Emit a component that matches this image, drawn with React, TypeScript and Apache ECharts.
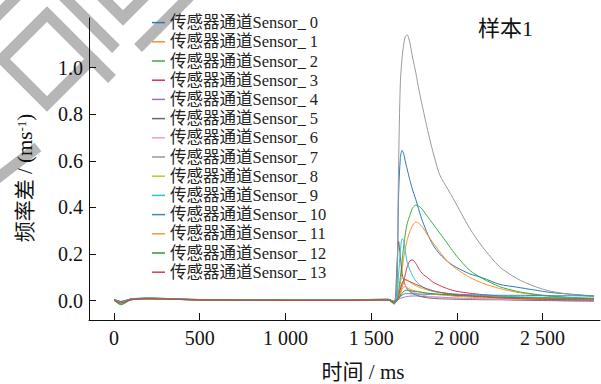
import React, { useEffect, useRef } from 'react';
import * as echarts from 'echarts';

// time (ms)
const TIME = [0, 40, 100, 200, 500, 900, 1300, 1600, 1635, 1650, 1660, 1670, 1680, 1690, 1700, 1710, 1725, 1740, 1760, 1780, 1800, 1830, 1860, 1900, 1950, 2000, 2075, 2150, 2250, 2350, 2450, 2550, 2675, 2800];

const SENSOR_NAMES = [
  '传感器通道Sensor_ 0', '传感器通道Sensor_ 1', '传感器通道Sensor_ 2', '传感器通道Sensor_ 3',
  '传感器通道Sensor_ 4', '传感器通道Sensor_ 5', '传感器通道Sensor_ 6', '传感器通道Sensor_ 7',
  '传感器通道Sensor_ 8', '传感器通道Sensor_ 9', '传感器通道Sensor_ 10', '传感器通道Sensor_ 11',
  '传感器通道Sensor_ 12', '传感器通道Sensor_ 13',
];

const S0 = [0.006, -0.004, 0.008, 0.011, 0.005, 0.004, 0.003, 0.006, -0.005, 0.05, 0.45, 0.61, 0.645, 0.63, 0.595, 0.565, 0.52, 0.48, 0.435, 0.385, 0.34, 0.285, 0.24, 0.2, 0.165, 0.142, 0.115, 0.098, 0.07, 0.058, 0.046, 0.035, 0.027, 0.02];
const S1 = [0.003, -0.007, 0.005, 0.009, 0.004, 0.003, 0.002, 0.004, -0.007, 0.005, 0.02, 0.07, 0.13, 0.185, 0.225, 0.26, 0.295, 0.32, 0.338, 0.33, 0.315, 0.28, 0.25, 0.21, 0.165, 0.135, 0.1, 0.075, 0.052, 0.036, 0.026, 0.018, 0.012, 0.008];
const S2 = [0.002, -0.018, 0.004, 0.008, 0.003, 0.002, 0.002, 0.003, -0.015, 0.01, 0.04, 0.1, 0.165, 0.235, 0.29, 0.33, 0.365, 0.395, 0.41, 0.405, 0.39, 0.36, 0.33, 0.29, 0.24, 0.19, 0.13, 0.095, 0.06, 0.04, 0.028, 0.02, 0.013, 0.008];
const S3 = [0.001, -0.01, 0.004, 0.008, 0.003, 0.002, 0.001, 0.003, -0.008, 0.0, 0.012, 0.03, 0.06, 0.085, 0.115, 0.145, 0.17, 0.175, 0.16, 0.135, 0.115, 0.098, 0.08, 0.065, 0.05, 0.04, 0.032, 0.026, 0.02, 0.015, 0.01, 0.008, 0.005, 0.003];
const S4 = [0.004, -0.005, 0.005, 0.009, 0.004, 0.003, 0.002, 0.004, -0.004, 0.002, 0.006, 0.01, 0.012, 0.014, 0.016, 0.018, 0.019, 0.02, 0.02, 0.019, 0.018, 0.017, 0.016, 0.015, 0.013, 0.011, 0.009, 0.007, 0.005, 0.003, 0.001, 0.0, -0.002, -0.003];
const S5 = [0.005, -0.004, 0.006, 0.01, 0.004, 0.003, 0.003, 0.005, -0.004, 0.15, 0.255, 0.19, 0.12, 0.085, 0.065, 0.05, 0.04, 0.032, 0.025, 0.02, 0.016, 0.012, 0.01, 0.008, 0.007, 0.006, 0.005, 0.004, 0.004, 0.003, 0.003, 0.002, 0.002, 0.002];
const S6 = [0.004, -0.006, 0.005, 0.009, 0.004, 0.003, 0.002, 0.004, -0.005, 0.0, 0.02, 0.05, 0.07, 0.075, 0.065, 0.055, 0.045, 0.038, 0.032, 0.027, 0.023, 0.019, 0.016, 0.013, 0.011, 0.01, 0.008, 0.007, 0.006, 0.005, 0.005, 0.004, 0.004, 0.003];
const S7 = [0.005, -0.005, 0.006, 0.01, 0.004, 0.003, 0.003, 0.005, -0.005, 0.08, 0.58, 0.93, 1.04, 1.1, 1.135, 1.14, 1.11, 1.05, 0.98, 0.9, 0.83, 0.73, 0.64, 0.54, 0.475, 0.41, 0.31, 0.23, 0.145, 0.095, 0.062, 0.04, 0.026, 0.018];
const S8 = [0.004, -0.006, 0.005, 0.009, 0.004, 0.003, 0.002, 0.004, -0.006, 0.0, 0.01, 0.03, 0.06, 0.08, 0.09, 0.088, 0.08, 0.072, 0.064, 0.057, 0.052, 0.046, 0.041, 0.036, 0.031, 0.027, 0.022, 0.018, 0.014, 0.011, 0.009, 0.008, 0.007, 0.006];
const S9 = [0.005, -0.005, 0.007, 0.01, 0.004, 0.003, 0.003, 0.005, -0.004, 0.01, 0.11, 0.21, 0.265, 0.26, 0.21, 0.165, 0.135, 0.11, 0.085, 0.07, 0.06, 0.047, 0.04, 0.035, 0.031, 0.028, 0.025, 0.022, 0.019, 0.017, 0.015, 0.013, 0.012, 0.01];
const S10 = [0.006, -0.003, 0.007, 0.011, 0.005, 0.004, 0.003, 0.006, -0.003, 0.004, 0.01, 0.018, 0.024, 0.028, 0.03, 0.03, 0.03, 0.029, 0.029, 0.028, 0.028, 0.027, 0.027, 0.026, 0.026, 0.025, 0.025, 0.024, 0.023, 0.023, 0.022, 0.021, 0.021, 0.02];
const S11 = [0.003, -0.008, 0.004, 0.008, 0.003, 0.002, 0.002, 0.003, -0.008, 0.0, 0.01, 0.03, 0.05, 0.058, 0.06, 0.055, 0.05, 0.045, 0.042, 0.039, 0.035, 0.031, 0.028, 0.025, 0.022, 0.018, 0.015, 0.012, 0.01, 0.008, 0.007, 0.006, 0.005, 0.005];
const S12 = [0.003, -0.015, 0.004, 0.008, 0.003, 0.002, 0.002, 0.003, -0.012, 0.0, 0.008, 0.02, 0.032, 0.04, 0.044, 0.045, 0.043, 0.041, 0.039, 0.037, 0.035, 0.032, 0.03, 0.028, 0.025, 0.022, 0.02, 0.018, 0.015, 0.013, 0.012, 0.011, 0.01, 0.01];
const S13 = [0.002, -0.009, 0.004, 0.008, 0.003, 0.002, 0.001, 0.003, -0.007, 0.0, 0.02, 0.05, 0.075, 0.088, 0.09, 0.087, 0.082, 0.077, 0.07, 0.064, 0.058, 0.05, 0.043, 0.036, 0.03, 0.025, 0.02, 0.016, 0.012, 0.009, 0.007, 0.005, 0.004, 0.003];

const SERIES_VALUES = [S0, S1, S2, S3, S4, S5, S6, S7, S8, S9, S10, S11, S12, S13];

const COLORS = ['#2a7ab8', '#f7922a', '#3aad3a', '#dc3050', '#9a74c0', '#6e6660', '#ec9ccc', '#9a9a9a', '#c4c52e', '#2ec2d2', '#3c88bc', '#f59a3c', '#2e9a3e', '#d2404a'];

const X_TICKS = [0, 500, 1000, 1500, 2000, 2500];
const Y_TICKS = [0, 0.2, 0.4, 0.6, 0.8, 1.0];
const TITLE = '样本1';
const X_NAME = '时间 / ms';
const Y_NAME = '频率差 / (ms{sup|-1})';

const SERIF = "'Liberation Serif', 'Times New Roman', 'Noto Sans CJK SC', serif";

const fmtX = (v: number) => (v >= 1000 ? `${Math.floor(v / 1000)} ${String(v % 1000).padStart(3, '0')}` : String(v));

export default function App() {
  const ref = useRef<HTMLDivElement>(null);
  useEffect(() => {
    const chart = echarts.init(ref.current!, null, { renderer: 'svg' });
    const wm = { stroke: '#b6b6b6', lineWidth: 11, fill: 'none' };
    chart.setOption({
      animation: false,
      color: COLORS,
      title: {
        text: TITLE,
        left: 478,
        top: 17,
        padding: 0,
        textStyle: { fontSize: 22, fontWeight: 'normal', color: '#111', fontFamily: SERIF },
      },
      legend: {
        orient: 'vertical',
        left: 152,
        top: 13,
        padding: 0,
        itemGap: 0,
        icon: 'rect',
        itemWidth: 13,
        itemHeight: 1.5,
        data: SENSOR_NAMES,
        textStyle: { fontSize: 16.5, lineHeight: 19.2, color: '#222', fontFamily: SERIF },
      },
      grid: { left: 89, top: 18, width: 511, height: 302, containLabel: false },
      xAxis: {
        type: 'value',
        min: -146,
        max: 2835,
        axisLine: { show: true, onZero: false, lineStyle: { color: '#111', width: 1 } },
        axisTick: { show: true, inside: true, length: 7, customValues: X_TICKS, lineStyle: { color: '#111' } },
        axisLabel: { customValues: X_TICKS, formatter: fmtX, fontSize: 20, margin: 8, color: '#111', fontFamily: SERIF },
        splitLine: { show: false },
      },
      yAxis: {
        type: 'value',
        min: -0.083,
        max: 1.213,
        axisLine: { show: true, onZero: false, lineStyle: { color: '#111', width: 1 } },
        axisTick: { show: true, inside: true, length: 7, customValues: Y_TICKS, lineStyle: { color: '#111' } },
        axisLabel: { customValues: Y_TICKS, formatter: (v: number) => v.toFixed(1), fontSize: 20, margin: 6, color: '#111', fontFamily: SERIF },
        splitLine: { show: false },
      },
      graphic: [
        { type: 'polyline', z: -1, shape: { points: [[-5, 18], [18, -5]] }, style: wm },
        { type: 'polygon', z: -1, shape: { points: [[47, 14], [92, 59], [47, 104], [2, 59]] }, style: wm },
        { type: 'polyline', z: -1, shape: { points: [[62, -5], [116, 49]] }, style: wm },
        { type: 'polyline', z: -1, shape: { points: [[92, 59], [112, 79]] }, style: wm },
        { type: 'polyline', z: -1, shape: { points: [[100, -5], [123, 18], [146, -5]] }, style: wm },
        { type: 'polyline', z: -1, shape: { points: [[138, 48], [192, -6]] }, style: wm },
        { type: 'polyline', z: -1, shape: { points: [[-5, 180], [38, 147]] }, style: wm },
        {
          type: 'text',
          x: 363,
          y: 372,
          style: {
            text: X_NAME, fontSize: 21, fontFamily: SERIF, fill: '#111',
            align: 'center', verticalAlign: 'middle', textAlign: 'center', textVerticalAlign: 'middle',
          },
        },
        {
          type: 'text',
          x: 25,
          y: 178,
          rotation: Math.PI / 2,
          style: {
            text: Y_NAME, fontSize: 21, fontFamily: SERIF, fill: '#111',
            align: 'center', verticalAlign: 'middle', textAlign: 'center', textVerticalAlign: 'middle',
            rich: { sup: { fontSize: 13, lineHeight: 12, verticalAlign: 'top', fontFamily: SERIF, fill: '#111' } },
          },
        },
      ],
      series: SERIES_VALUES.map((vals, i) => ({
        name: SENSOR_NAMES[i],
        type: 'line',
        showSymbol: false,
        symbol: 'none',
        smooth: 0.25,
        lineStyle: { width: 1 },
        data: TIME.map((t, j) => [t, vals[j]]),
      })),
    });
    return () => chart.dispose();
  }, []);
  return <div ref={ref} style={{ position: 'absolute', left: 0, top: 0, width: 601, height: 384 }} />;
}
